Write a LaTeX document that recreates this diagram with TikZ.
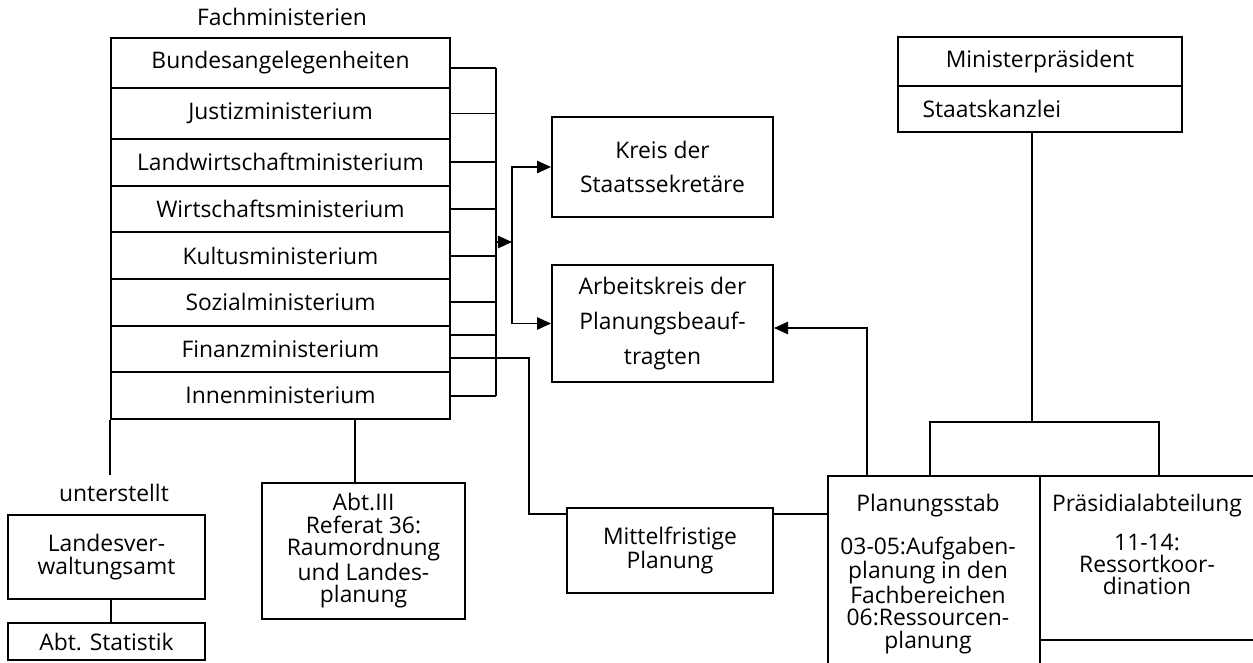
\documentclass[tikz,border=0pt]{standalone}
\usepackage{fontspec}
\setmainfont{Open Sans}
\usetikzlibrary{arrows.meta}

\begin{document}
\begin{tikzpicture}[x=0.02cm, y=-0.02cm,
    box/.style={draw, line width=1.1pt, inner sep=0pt, align=center, font=\fontsize{13}{12.8}\selectfont},
    row/.style={box, minimum width=6.78cm, minimum height=0.9333cm},
    lbl/.style={inner sep=0pt, font=\fontsize{13}{12.8}\selectfont},
    line/.style={line width=1.1pt},
    arr/.style={line, -{Triangle[length=8pt,width=7pt]}}]
  \useasboundingbox (0,0) rectangle (1253,662);
  \clip (0,0) rectangle (1253,662);

  % Fachministerien
  \node[lbl] (fach) at (282,17) {Fachministerien};
  \node[row, minimum height=1cm] (bund) at (280.5,63) {Bundesangelegenheiten};
  \node[row, minimum height=1.02cm] (jus) at (280.5,113.5) {Justizministerium};
  \node[row] (lw) at (280.5,162.33) {Landwirtschaftministerium};
  \node[row] (wi) at (280.5,209) {Wirtschaftsministerium};
  \node[row] (ku) at (280.5,255.67) {Kultusministerium};
  \node[row] (so) at (280.5,302.33) {Sozialministerium};
  \node[row] (fin) at (280.5,349) {Finanzministerium};
  \node[row] (inn) at (280.5,395.67) {Innenministerium};

  % Kreise
  \node[box, minimum width=4.42cm, minimum height=2cm, font=\fontsize{13}{19.8}\selectfont] (kreis) at (662.5,167) {Kreis der\\Staatssekretäre};
  \node[box, minimum width=4.42cm, minimum height=2.34cm, font=\fontsize{13}{19.8}\selectfont] (ak) at (662.5,323.5) {Arbeitskreis der\\Planungsbeauf-\\tragten};

  % Ministerpraesident
  \node[box, minimum width=5.68cm, minimum height=0.98cm] (mp) at (1040,61.5) {Ministerpräsident};
  \node[box, text width=4.7cm, inner xsep=0.49cm, minimum height=0.92cm, align=left] (sk) at (1040,109) {Staatskanzlei};

  % untere Ebene
  \node[lbl] (unt) at (114,493) {unterstellt};
  \node[box, minimum width=3.94cm, minimum height=1.68cm] (lva) at (106.5,557) {Landesver-\\waltungsamt};
  \node[box, minimum width=3.94cm, minimum height=0.74cm] (stat) at (106.5,641.5) {Abt. Statistik};
  \node[box, minimum width=4.06cm, minimum height=2.72cm] (abt) at (363.5,551) {Abt.III\\Referat 36:\\Raumordnung\\und Landes-\\planung};
  \node[box, minimum width=4.12cm, minimum height=1.7cm] (mf) at (670,550.5) {Mittelfristige\\Planung};
  \node[box, minimum width=4.24cm, minimum height=4.48cm] (ps) at (934,588) {};
  \node[lbl, align=center, anchor=north] (pstext) at (928,494) {Planungsstab\\[10pt]03-05:Aufgaben-\\planung in den\\Fachbereichen\\06:Ressourcen-\\planung};
  \node[box, minimum width=4.3cm, minimum height=3.28cm] (pa) at (1147.5,558) {};
  \node[lbl, align=center, anchor=north] (patext) at (1147,494) {Präsidialabteilung\\[9pt]11-14:\\Ressortkoor-\\dination};

  % Verbindungen der Ministerien
  \coordinate (bus) at (496,0);
  \draw[line] ([yshift=-0.1cm]bund.east) -- ([yshift=-0.1cm]bund.east -| bus);
  \foreach \r in {jus,lw,wi,ku,so,inn}
    \draw[line] (\r.east) -- (\r.east -| bus);
  \draw[line] ([yshift=0.28cm]fin.east) -- ([yshift=0.28cm]fin.east -| bus);
  \draw[line] ([yshift=-0.1cm]bund.east -| bus) -- (inn.east -| bus);

  \coordinate (sp) at (512,242);
  \draw[arr] (sp -| bus) -- (sp);
  \draw[arr] (sp) |- (kreis.west);
  \draw[arr] (sp) |- (ak.west);

  \draw[line] ([yshift=-0.18cm]fin.east) -- ++(1.56cm,0) |- ([yshift=-0.14cm]mf.north west);
  \draw[line] ([yshift=-0.14cm]mf.north east) -- ([yshift=-0.14cm]mf.north east -| ps.west);
  \draw[arr] ([xshift=-1.34cm]ps.north) |- ([yshift=-0.09cm]ak.east);

  % Staatskanzlei nach unten
  \coordinate (brk) at (1032,422);
  \draw[line] (brk |- sk.south) -- (brk);
  \draw[line] ([xshift=-0.08cm]ps.north) |- ([xshift=0.23cm]pa.north |- brk) -- ([xshift=0.23cm]pa.north);

  \draw[line] (inn.south west) -- ([yshift=0.18cm]unt.north -| inn.south west);
  \draw[line] ([xshift=0.09cm]lva.south) -- ([xshift=0.09cm]stat.north);
  \draw[line] ([xshift=-0.17cm]abt.north) -- ([xshift=-0.17cm]abt.north |- inn.south);
\end{tikzpicture}
\end{document}
